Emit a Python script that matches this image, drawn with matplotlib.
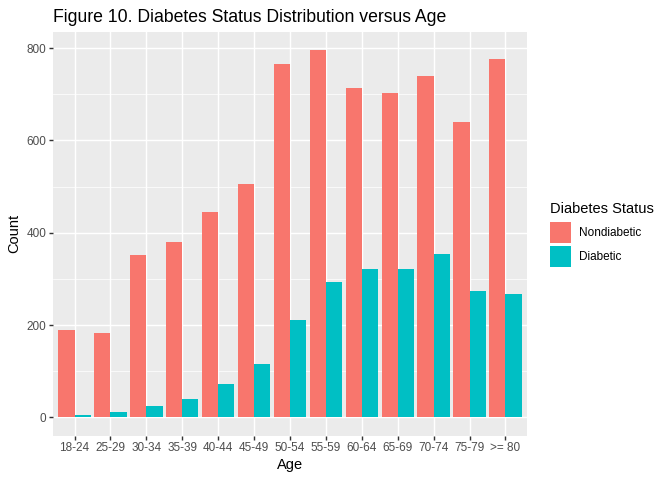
import numpy as np
import matplotlib
matplotlib.use("Agg")
import matplotlib.pyplot as plt
from matplotlib.patches import Rectangle

plt.rcParams["font.family"] = ["Liberation Sans", "DejaVu Sans"]

ages = ["18-24", "25-29", "30-34", "35-39", "40-44", "45-49", "50-54",
        "55-59", "60-64", "65-69", "70-74", "75-79", ">= 80"]
nondiabetic = [189, 183, 352, 380, 445, 506, 766, 796, 714, 703, 740, 640, 777]
diabetic = [5, 11, 24, 40, 72, 116, 211, 293, 322, 322, 354, 274, 267]
status = ["Nondiabetic", "Diabetic"]
colors = ["#F8766D", "#00BFC4"]

fig = plt.figure(figsize=(7, 5), dpi=96)
ax = fig.add_axes([53/672, 1-435.7/480, 474/672, (435.7-31.7)/480])
ax.set_facecolor("#EBEBEB")

x = np.arange(len(ages))
w = 0.45
ax.bar(x - w/2, nondiabetic, width=w, color=colors[0], zorder=3)
ax.bar(x + w/2, diabetic, width=w, color=colors[1], zorder=3)

ymax = max(max(nondiabetic), max(diabetic))
ax.set_ylim(-0.05*ymax, 1.05*ymax)
ax.set_xlim(-0.6, len(ages) - 0.4)
ax.set_yticks([0, 200, 400, 600, 800])
ax.set_yticks([100, 300, 500, 700], minor=True)
ax.set_xticks(x)
ax.set_xticklabels(ages)

ax.grid(which="major", color="white", linewidth=1.07, zorder=1)
ax.grid(which="minor", axis="y", color="white", linewidth=0.53, zorder=1)
ax.set_axisbelow(True)
for s in ax.spines.values():
    s.set_visible(False)
ax.tick_params(which="major", length=2.75, width=1.07, color="#333333",
               labelsize=8.8, labelcolor="#4D4D4D", pad=2.2)
ax.tick_params(which="minor", length=0)

ax.set_xlabel("Age", fontsize=11, labelpad=2.5)
ax.set_ylabel("Count", fontsize=11, labelpad=4)
fig.text(53/672, 1-22/480, "Figure 10. Diabetes Status Distribution versus Age",
         fontsize=13.2, ha="left", va="baseline")

# legend drawn by hand, ggplot style
fig.text(550/672, 1-213/480, "Diabetes Status", fontsize=11, ha="left", va="baseline")
for i, (lab, c) in enumerate(zip(status, colors)):
    top = 222 + i*24
    fig.add_artist(Rectangle((550/672, 1-(top+21)/480), 21/672, 21/480,
                             transform=fig.transFigure, facecolor=c, edgecolor="none"))
    fig.text(579/672, 1-(top+10.5)/480, lab, fontsize=8.8, ha="left", va="center")

fig.savefig("out.png", dpi=96)
